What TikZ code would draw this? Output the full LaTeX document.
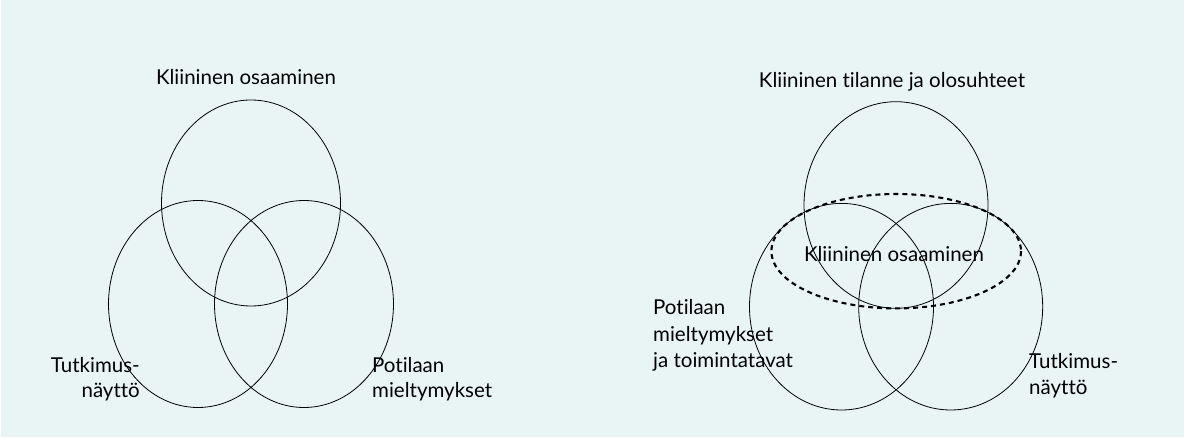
\documentclass[tikz,border=0pt]{standalone}
\usepackage{fontspec}
\setmainfont{Lato}[Ligatures={NoCommon,NoDiscretionary}]
\definecolor{bgc}{RGB}{233,245,245}
\begin{document}
\begin{tikzpicture}[x=1pt,y=-1pt,
  ring/.style={draw=black,line width=0.8pt},
  dashring/.style={draw=black,line width=2.1pt,dash pattern=on 5pt off 4pt},
  lbl/.style={inner sep=0pt,font=\fontsize{20.5}{25}\selectfont}]
\fill[white] (0,0) rectangle (1184,438);
\fill[bgc] (1.2,0) rectangle (1184,436.5);
\useasboundingbox (0,0) rectangle (1184,438);
% left diagram
\draw[ring] (251,203) ellipse [x radius=89.5, y radius=103];
\draw[ring] (198,304) ellipse [x radius=89.5, y radius=103.5];
\draw[ring] (304,304) ellipse [x radius=89.5, y radius=103.5];
\node[lbl,anchor=base] (lk) at (246,85) {Kliininen osaaminen};
\node[lbl,anchor=base east,align=right] (lt) at (140,398) {Tutkimus-\\näyttö};
\node[lbl,anchor=base west,align=left] (lp) at (372,398) {Potilaan\\mieltymykset};
% right diagram
\draw[ring] (896,205) ellipse [x radius=92, y radius=103.3];
\draw[ring] (841.5,306.7) ellipse [x radius=92, y radius=103.3];
\draw[ring] (950.7,306.7) ellipse [x radius=92, y radius=103.3];
\draw[dashring] (896.2,251.2) ellipse [x radius=124.8, y radius=57.2];
\node[lbl,anchor=base] (rk) at (892,88) {Kliininen tilanne ja olosuhteet};
\node[lbl,anchor=base] (ro) at (894,262) {Kliininen osaaminen};
\node[lbl,anchor=base west,align=left,font=\fontsize{20.5}{26.8}\selectfont] (rp) at (653,368) {Potilaan\\mieltymykset\\ja toimintatavat};
\node[lbl,anchor=base west,align=left,font=\fontsize{20.5}{26.8}\selectfont] (rt) at (1029,395) {Tutkimus-\\näyttö};
\end{tikzpicture}
\end{document}
